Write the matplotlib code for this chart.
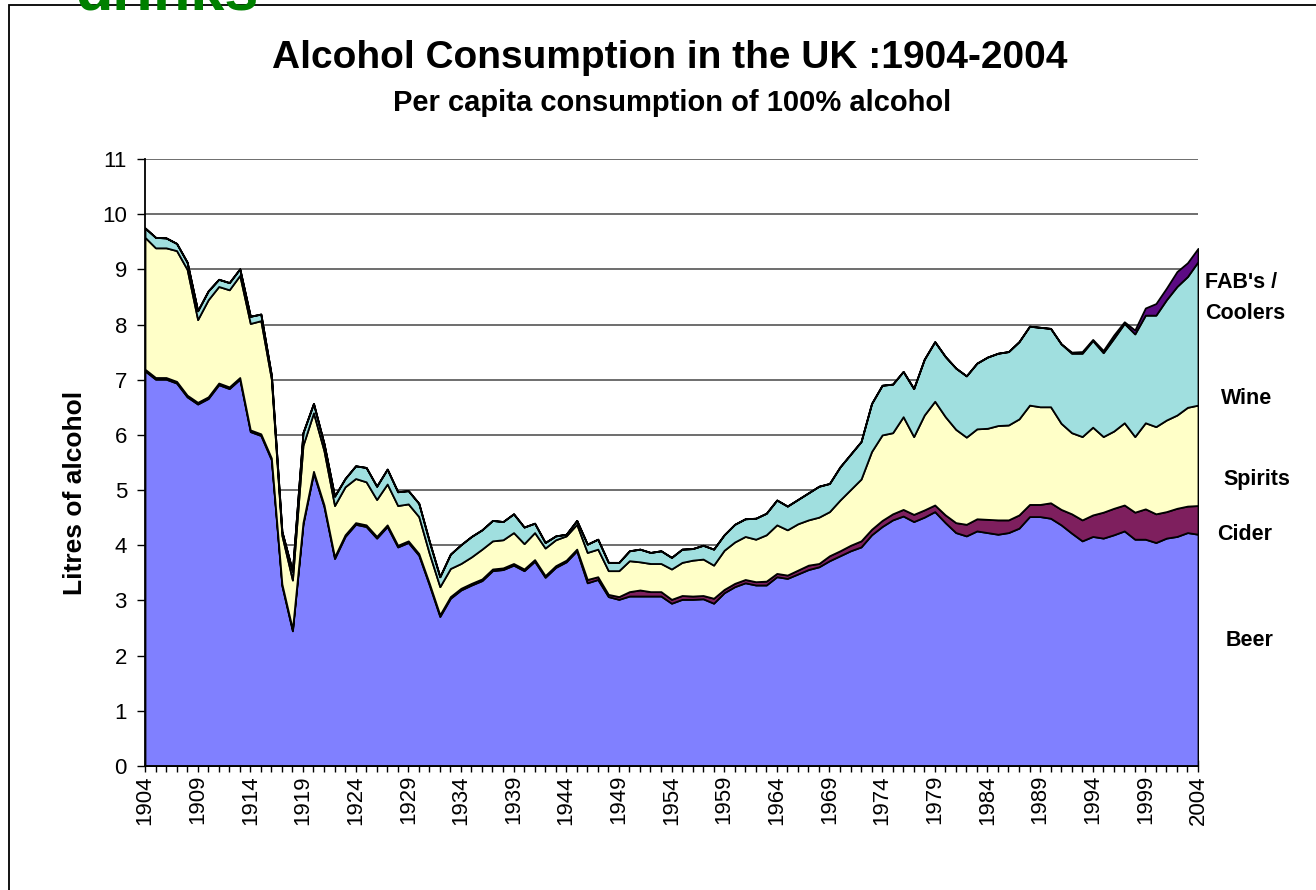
import matplotlib
matplotlib.use("Agg")
import matplotlib.pyplot as plt
from matplotlib.patches import Rectangle

plt.rcParams["font.family"] = ["Liberation Sans", "DejaVu Sans"]

years = list(range(1904, 2005))

# litres of 100% alcohol per head
beer = [7.16, 7.01, 7.01, 6.94, 6.69, 6.56, 6.66, 6.91, 6.84, 7.01,
        6.06, 5.99, 5.55, 3.27, 2.45, 4.38, 5.31, 4.70, 3.76, 4.16,
        4.38, 4.34, 4.13, 4.34, 3.97, 4.05, 3.82, 3.28, 2.71, 3.04,
        3.19, 3.28, 3.36, 3.54, 3.56, 3.64, 3.54, 3.71, 3.42, 3.60,
        3.70, 3.90, 3.32, 3.38, 3.07, 3.02, 3.08, 3.08, 3.08, 3.08,
        2.95, 3.02, 3.02, 3.03, 2.95, 3.14, 3.25, 3.32, 3.28, 3.28,
        3.43, 3.40, 3.48, 3.56, 3.61, 3.72, 3.81, 3.90, 3.97, 4.19,
        4.34, 4.46, 4.53, 4.43, 4.51, 4.61, 4.41, 4.23, 4.17, 4.26,
        4.23, 4.20, 4.23, 4.31, 4.52, 4.52, 4.49, 4.37, 4.22, 4.08,
        4.16, 4.13, 4.19, 4.26, 4.11, 4.11, 4.05, 4.13, 4.16, 4.23, 4.20]
cider = [0.03, 0.03, 0.03, 0.03, 0.03, 0.03, 0.03, 0.03, 0.03, 0.03,
         0.03, 0.03, 0.03, 0.03, 0.03, 0.03, 0.03, 0.03, 0.03, 0.03,
         0.03, 0.03, 0.03, 0.03, 0.03, 0.03, 0.03, 0.03, 0.03, 0.03,
         0.03, 0.03, 0.03, 0.03, 0.03, 0.03, 0.03, 0.03, 0.03, 0.03,
         0.03, 0.03, 0.06, 0.05, 0.04, 0.05, 0.08, 0.11, 0.08, 0.08,
         0.07, 0.07, 0.06, 0.06, 0.09, 0.06, 0.06, 0.06, 0.06, 0.07,
         0.06, 0.06, 0.07, 0.08, 0.06, 0.09, 0.09, 0.10, 0.11, 0.10,
         0.11, 0.11, 0.12, 0.13, 0.13, 0.12, 0.14, 0.18, 0.21, 0.22,
         0.24, 0.26, 0.23, 0.24, 0.22, 0.22, 0.28, 0.28, 0.35, 0.38,
         0.39, 0.47, 0.48, 0.47, 0.49, 0.55, 0.52, 0.48, 0.51, 0.48, 0.52]
spirits = [2.39, 2.35, 2.35, 2.37, 2.28, 1.50, 1.76, 1.75, 1.76, 1.85,
           1.93, 2.05, 1.43, 0.88, 0.89, 1.40, 1.06, 0.98, 0.93, 0.87,
           0.80, 0.78, 0.67, 0.74, 0.72, 0.67, 0.67, 0.54, 0.51, 0.51,
           0.45, 0.48, 0.54, 0.51, 0.51, 0.56, 0.46, 0.49, 0.50, 0.47,
           0.44, 0.45, 0.49, 0.50, 0.43, 0.47, 0.56, 0.51, 0.51, 0.51,
           0.55, 0.60, 0.65, 0.66, 0.60, 0.71, 0.75, 0.78, 0.77, 0.84,
           0.88, 0.82, 0.84, 0.82, 0.84, 0.80, 0.92, 1.01, 1.12, 1.41,
           1.55, 1.47, 1.68, 1.41, 1.72, 1.88, 1.78, 1.69, 1.58, 1.63,
           1.65, 1.71, 1.72, 1.74, 1.80, 1.77, 1.74, 1.56, 1.47, 1.51,
           1.59, 1.37, 1.40, 1.49, 1.37, 1.56, 1.58, 1.66, 1.69, 1.79, 1.82]
wine = [0.17, 0.19, 0.18, 0.13, 0.13, 0.16, 0.16, 0.13, 0.13, 0.12,
        0.13, 0.12, 0.07, 0.07, 0.16, 0.23, 0.17, 0.13, 0.17, 0.15,
        0.23, 0.26, 0.24, 0.27, 0.25, 0.24, 0.24, 0.22, 0.18, 0.26,
        0.34, 0.37, 0.35, 0.37, 0.33, 0.34, 0.30, 0.17, 0.10, 0.07,
        0.03, 0.07, 0.15, 0.18, 0.15, 0.15, 0.18, 0.23, 0.20, 0.23,
        0.21, 0.24, 0.21, 0.25, 0.29, 0.28, 0.32, 0.32, 0.38, 0.39,
        0.45, 0.43, 0.44, 0.49, 0.56, 0.51, 0.60, 0.64, 0.68, 0.87,
        0.90, 0.88, 0.82, 0.87, 1.01, 1.08, 1.09, 1.11, 1.11, 1.19,
        1.29, 1.31, 1.33, 1.40, 1.43, 1.44, 1.42, 1.44, 1.44, 1.51,
        1.57, 1.52, 1.68, 1.80, 1.86, 1.95, 2.02, 2.18, 2.33, 2.37, 2.60]
# FAB's / coolers only appear from 1992
fab = [0.0] * 88 + [0.02, 0.03, 0.02, 0.04, 0.06, 0.03, 0.07,
                    0.13, 0.21, 0.21, 0.27, 0.25, 0.24]

colors = ["#8080ff", "#7e1f5e", "#ffffc8", "#a0dfdf", "#5c0a84"]
labels = ["Beer", "Cider", "Spirits", "Wine", "FAB's /\nCoolers"]

W, H = 1316, 890
fig = plt.figure(figsize=(W / 100, H / 100), dpi=100)
ax = fig.add_axes([145 / W, 1 - 766 / H, (1198 - 145) / W, (766 - 159) / H])

ax.stackplot(years, beer, cider, spirits, wine, fab, colors=colors,
             edgecolor="black", linewidth=1.3, zorder=3)

ax.set_xlim(1904, 2004)
ax.set_ylim(0, 11)
ax.set_yticks(range(0, 12))
ax.yaxis.grid(True, color="#555555", linewidth=1.2, zorder=0)
ax.set_axisbelow(True)
ax.set_xticks(years)
ax.set_xticklabels([str(y) if (y - 1904) % 5 == 0 else "" for y in years],
                   rotation=90, fontsize=16)
ax.tick_params(axis="x", direction="inout", length=9, width=1, pad=2)
ax.tick_params(axis="y", direction="out", length=6, width=1, pad=7,
               labelsize=16)
for s in ["top", "right"]:
    ax.spines[s].set_visible(False)
for s in ["left", "bottom"]:
    ax.spines[s].set_linewidth(1.3)
    ax.spines[s].set_zorder(4)

fig.text(75 / W, 1 - 493 / H, "Litres of alcohol", rotation=90,
         ha="center", va="center", fontsize=19, fontweight="bold")

fig.text(670 / W, 1 - 58 / H, "Alcohol Consumption in the UK :1904-2004",
         ha="center", va="center", fontsize=28, fontweight="bold")
fig.text(672 / W, 1 - 103 / H, "Per capita consumption of 100% alcohol",
         ha="center", va="center", fontsize=21, fontweight="bold")

# series names at the right edge
label_pos = [(1226, 640), (1217, 534), (1223, 480), (1221, 398), (1205, 298)]
for name, (lx, ly) in zip(labels, label_pos):
    fig.text(lx / W, 1 - ly / H, name, ha="left", va="center",
             fontsize=15.5, fontweight="bold", linespacing=1.6)

# frame and cut-off heading of the slide
fig.patches.append(Rectangle((9 / W, -0.1), 1.2, 1.1 - 5 / H,
                             transform=fig.transFigure, fill=False,
                             edgecolor="black", linewidth=1.3))
fig.text(75 / W, 1 - 10 / H, "drinks", ha="left", va="baseline",
         fontsize=44, fontweight="bold", color="#008000")

fig.savefig("out.png", dpi=100)
